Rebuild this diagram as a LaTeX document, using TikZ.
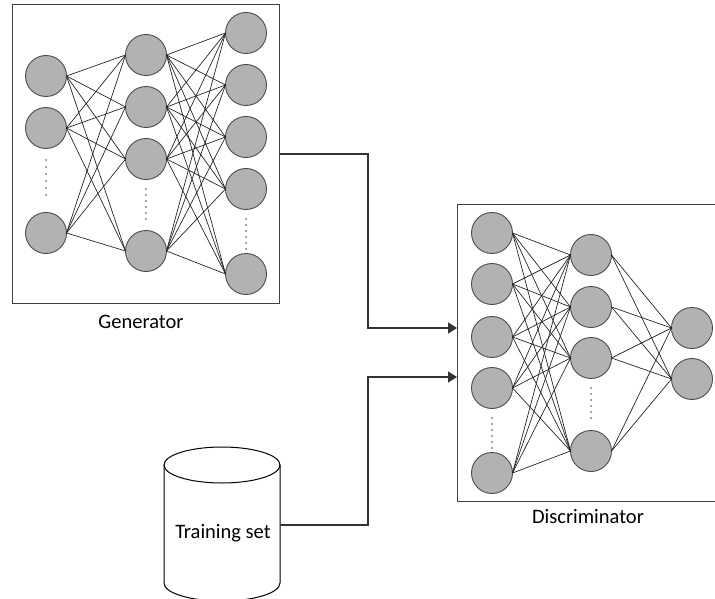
\documentclass[tikz,border=0pt]{standalone}
\usepackage{fontspec}
\setmainfont{Carlito}
\usetikzlibrary{arrows.meta}
\begin{document}
\begin{tikzpicture}[x=1pt,y=-1pt,
  neuron/.style={circle,draw=black!70,fill=black!30,line width=0.9pt,minimum size=41pt,inner sep=0pt,outer sep=0pt},
  link/.style={black!85,line width=0.7pt},
  frame/.style={draw=black!75,line width=1pt,inner sep=0pt,outer sep=0pt},
  arr/.style={black!80,line width=1.3pt,-{Triangle[length=9pt,width=11pt]}},
  lbl/.style={font=\fontsize{20.5}{24}\selectfont,inner sep=0pt},
  dotmark/.style={fill=black!70}]
\useasboundingbox (0,0) rectangle (715,599);

% frames
\node[frame,minimum width=267pt,minimum height=298pt] (gen) at (145.5,154) {};
\node[frame,minimum width=260pt,minimum height=297pt] (disc) at (587,352.5) {};

% generator neurons
\foreach \y [count=\i] in {76,128,233} \node[neuron] (g1\i) at (46,\y) {};
\foreach \y [count=\i] in {55,107,159,251} \node[neuron] (g2\i) at (146,\y) {};
\foreach \y [count=\i] in {33,85,137,189,274} \node[neuron] (g3\i) at (246,\y) {};
% discriminator neurons
\foreach \y [count=\i] in {233,284,337,388,473} \node[neuron] (d1\i) at (492,\y) {};
\foreach \y [count=\i] in {255,307,358,451} \node[neuron] (d2\i) at (591,\y) {};
\foreach \y [count=\i] in {328,379} \node[neuron] (d3\i) at (692,\y) {};

% links
\foreach \i in {1,...,3} \foreach \j in {1,...,4} \draw[link] (g1\i.east) -- (g2\j.west);
\foreach \i in {1,...,4} \foreach \j in {1,...,5} \draw[link] (g2\i.east) -- (g3\j.west);
\foreach \i in {1,...,5} \foreach \j in {1,...,4} \draw[link] (d1\i.east) -- (d2\j.west);
\foreach \i in {1,...,4} \foreach \j in {1,...,2} \draw[link] (d2\i.east) -- (d3\j.west);

% vertical dots
\foreach \k in {0,...,5} {
  \fill[dotmark] (46,{160+\k*7}) circle (0.9pt);
  \fill[dotmark] (146,{189+\k*6}) circle (0.9pt);
  \fill[dotmark] (246,{219+\k*6}) circle (0.9pt);
  \fill[dotmark] (492,{418+\k*6}) circle (0.9pt);
  \fill[dotmark] (591,{388+\k*6}) circle (0.9pt);
}

% labels
\node[lbl] (glabel) at (141,322) {Generator};
\node[lbl] (dlabel) at (588,517) {Discriminator};

% training set cylinder
\draw[black,line width=1pt] (222,465) ellipse [x radius=58pt, y radius=18pt];
\draw[black,line width=1pt] (164,465) -- (164,583) arc[start angle=180,end angle=360,x radius=58pt,y radius=18pt] -- (280,465);
\node[lbl] (train) at (223,533) {Training set};
\coordinate (cylr) at (280,525);

% connectors
\coordinate (in1) at (457,328);
\coordinate (in2) at (457,377);
\draw[arr] (gen.east) -| (368,328) -- (in1);
\draw[arr] (cylr) -| (368,377) -- (in2);
\end{tikzpicture}
\end{document}
